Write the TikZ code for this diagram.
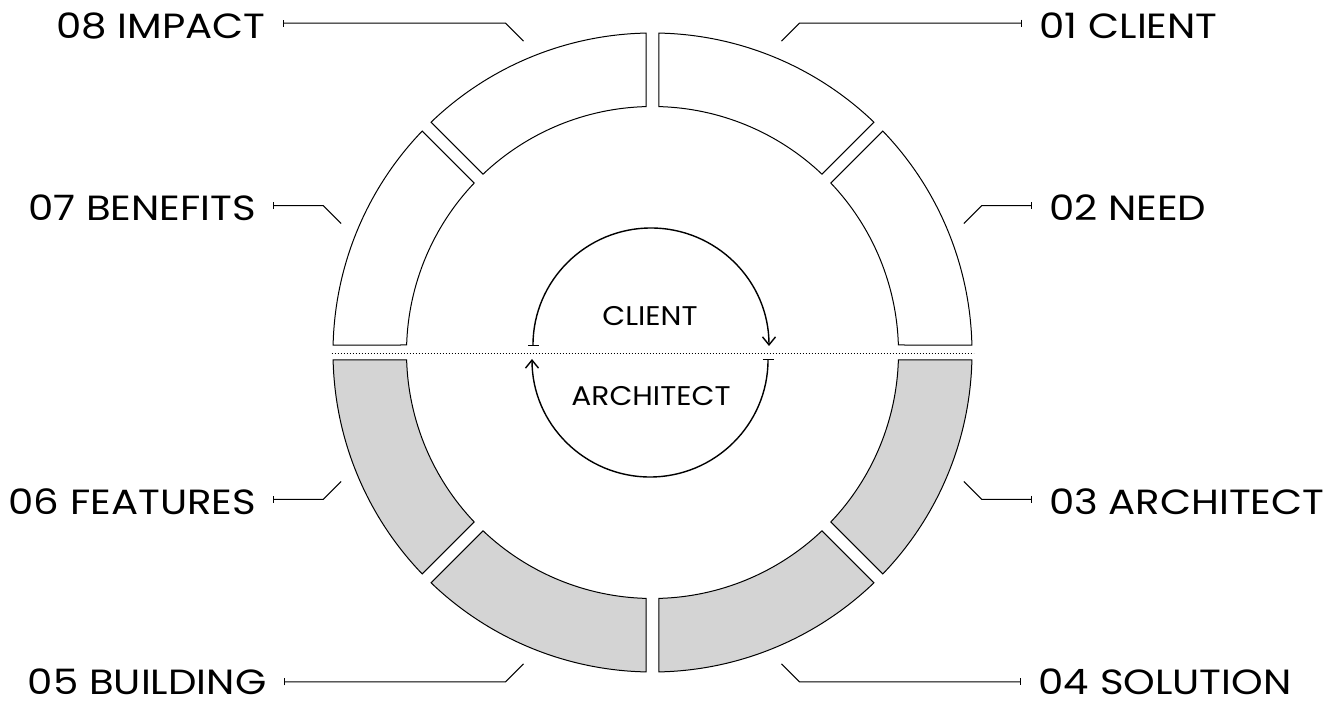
\documentclass[tikz,border=0pt]{standalone}
\usepackage{fontspec}
\setmainfont{Poppins}
\usetikzlibrary{calc,arrows.meta}

\definecolor{segfill}{RGB}{212,212,212}

\tikzset{
  seg/.style={draw=black, line width=1pt, line join=miter},
  upperseg/.style={seg, fill=white},
  lowerseg/.style={seg, fill=segfill},
  leader/.style={draw=black, line width=1pt, -{Bar[width=7pt,line width=1pt]}},
  lbl/.style={inner sep=0pt, text depth=0pt,
    font=\fontsize{35}{35}\selectfont\addfontfeatures{FakeStretch=1.15}},
  midlbl/.style={inner sep=0pt, text depth=0pt,
    font=\fontsize{27}{27}\selectfont\addfontfeatures{FakeStretch=1.1}},
  cycle arc/.style={draw=black, line width=1.4pt,
    {Bar[width=11pt,line width=1.4pt]}-{Straight Barb[length=8pt,width=13pt,line width=1.4pt]}},
  divider/.style={draw=black, line width=1pt, dash pattern=on 1pt off 2pt}
}

% ring radii (outer / inner)
\def\Ro{319.5}
\def\Ri{246}

% one ring segment between angles #1 and #2, gap half-widths #3 and #4
\newcommand{\ringseg}[5]{%
  \pgfmathsetmacro\oa{#1+asin(#3/\Ro)}%
  \pgfmathsetmacro\ob{#2-asin(#4/\Ro)}%
  \pgfmathsetmacro\ia{#1+asin(#3/\Ri)}%
  \pgfmathsetmacro\ib{#2-asin(#4/\Ri)}%
  \draw[#5] ($(C)+(\oa:\Ro pt)$) arc[start angle=\oa, end angle=\ob, radius=\Ro pt]
    -- ($(C)+(\ib:\Ri pt)$) arc[start angle=\ib, end angle=\ia, radius=\Ri pt] -- cycle;
}

% callout: id, angle, x sign, y sign, horizontal run, anchor, text offset x, text offset y, label
\newcommand{\callout}[9]{%
  \coordinate (in#1) at ($(C)+(#2:337pt)$);
  \coordinate (kn#1) at ($(in#1)+(#3*18,#4*18)$);
  \coordinate (tk#1) at ($(kn#1)+(#5,0)$);
  \draw[leader] (in#1) -- (kn#1) -- (tk#1);
  \node[lbl, anchor=#6] (lab#1) at ($(tk#1)+(#7,#8)$) {#9};
}

\begin{document}
\begin{tikzpicture}[x=1pt, y=1pt]
\useasboundingbox (0,0) rectangle (1330,704);
\coordinate (C) at (652.5,351.5);

% upper half of the ring
\ringseg{0}{45}{7.5}{6.3}{upperseg}
\ringseg{45}{90}{6.3}{6.3}{upperseg}
\ringseg{90}{135}{6.3}{6.3}{upperseg}
\ringseg{135}{180}{6.3}{7.5}{upperseg}
% lower half of the ring
\ringseg{180}{225}{7.5}{6.3}{lowerseg}
\ringseg{225}{270}{6.3}{6.3}{lowerseg}
\ringseg{270}{315}{6.3}{6.3}{lowerseg}
\ringseg{315}{360}{6.3}{7.5}{lowerseg}

% dividing line
\coordinate (dl) at ($(C)+(-321,-1.5)$);
\coordinate (dr) at ($(C)+(321,-1.5)$);
\draw[divider] (dl) -- (dr);

% central cycle
\coordinate (ta) at (533,358);
\coordinate (bb) at (768,345);
\draw[cycle arc] (ta) arc[start angle=180, end angle=0, radius=118pt];
\draw[cycle arc] (bb) arc[start angle=0, end angle=-180, radius=118pt];
\node[midlbl, anchor=base] (client) at (650,378) {CLIENT};
\node[midlbl, anchor=base] (architect) at (651,298) {ARCHITECT};

% callouts
\callout{1}{67.5}{1}{1}{223}{base west}{17}{-15}{01 CLIENT}
\callout{2}{22.5}{1}{1}{50}{base west}{17}{-15}{02 NEED}
\callout{3}{-22.5}{1}{-1}{50}{base west}{17}{-15}{03 ARCHITECT}
\callout{4}{-67.5}{1}{-1}{222}{base west}{17}{-13}{04 SOLUTION}
\callout{5}{247.5}{-1}{-1}{-222}{base east}{-17}{-13}{05 BUILDING}
\callout{6}{202.5}{-1}{-1}{-50}{base east}{-17}{-15}{06 FEATURES}
\callout{7}{157.5}{-1}{1}{-50}{base east}{-17}{-15}{07 BENEFITS}
\callout{8}{112.5}{-1}{1}{-223}{base east}{-17}{-15}{08 IMPACT}
\end{tikzpicture}
\end{document}
